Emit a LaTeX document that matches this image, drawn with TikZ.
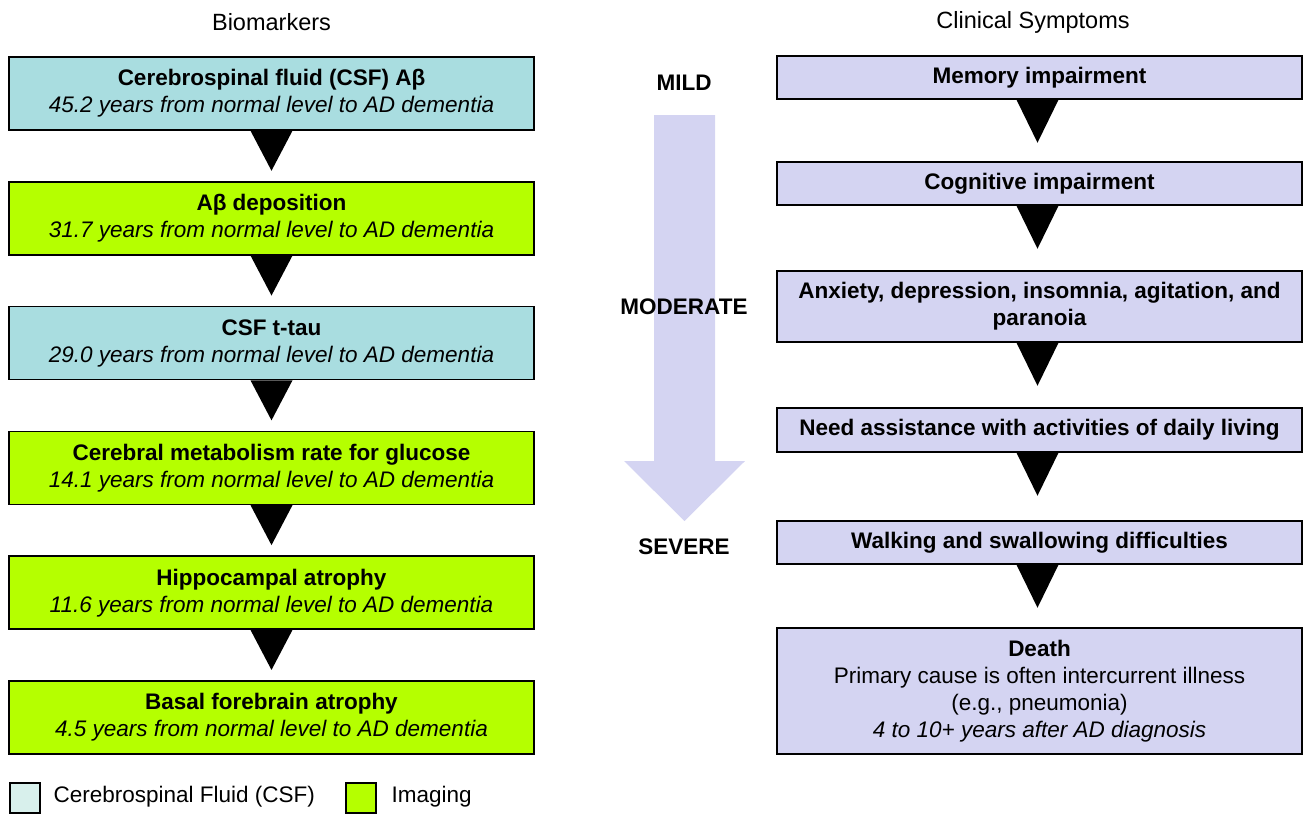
\documentclass[tikz,border=0pt]{standalone}
\usepackage{fontspec}
\setmainfont{Liberation Sans}
\definecolor{csfblue}{HTML}{A9DDE0}
\definecolor{imglime}{HTML}{B5FF00}
\definecolor{symlav}{HTML}{D4D4F2}
\definecolor{csflight}{HTML}{D8F0EC}
\tikzset{
    txt/.style={font=\fontsize{22.5}{27}\selectfont},
    markerbox/.style={txt, draw, line width=1.5pt, minimum width=525pt, minimum height=73pt, align=center, inner sep=0pt},
    symbox/.style={txt, draw, fill=symlav, line width=1.5pt, minimum width=525pt, align=center, inner sep=0pt},
    keybox/.style={draw, line width=1.2pt, minimum size=30pt, inner sep=0pt},
}
\begin{document}
\begin{tikzpicture}[x=1pt, y=-1pt]
    \useasboundingbox (0,0) rectangle (1304,814);
    % headers
    \node[txt, font=\fontsize{23.5}{27}\selectfont] (hbio) at (271.5,22) {Biomarkers};
    \node[txt, font=\fontsize{23.5}{27}\selectfont] (hclin) at (1033,22) {Clinical Symptoms};
    % biomarker chain
    \foreach \i/\col/\name/\yrs in {1/csfblue/{Cerebrospinal fluid (CSF) Aβ}/45.2,
                                    2/imglime/{Aβ deposition}/31.7,
                                    3/csfblue/{CSF t-tau}/29.0,
                                    4/imglime/{Cerebral metabolism rate for glucose}/14.1,
                                    5/imglime/{Hippocampal atrophy}/11.6,
                                    6/imglime/{Basal forebrain atrophy}/4.5} {
        \node[markerbox, fill=\col] (bm\i) at (271.5,{124.8*\i-31.3})
            {\textbf{\name}\\\textit{\yrs\ years from normal level to AD dementia}};
    }
    \foreach \i in {1,...,5} {
        \fill ([xshift=-21pt]bm\i.south) -- ([xshift=21pt]bm\i.south) -- ([yshift=-40pt]bm\i.south) -- cycle;
    }
    % severity
    \fill[symlav] (654,115) -- (715,115) -- (715,461) -- (745,461) -- (684.5,521)
        -- (624,461) -- (654,461) -- cycle;
    \node[txt, font=\fontsize{22.5}{27}\bfseries] (mild) at (684,83) {MILD};
    \node[txt, font=\fontsize{22.5}{27}\bfseries] (moderate) at (684,307) {MODERATE};
    \node[txt, font=\fontsize{22.5}{27}\bfseries] (severe) at (684,547) {SEVERE};
    % symptom chain
    \node[symbox, minimum height=43pt] (sym1) at (1039.5,77.5) {\textbf{Memory impairment}};
    \node[symbox, minimum height=43pt] (sym2) at (1039.5,183.5) {\textbf{Cognitive impairment}};
    \node[symbox, minimum height=71pt] (sym3) at (1039.5,306.5)
        {\textbf{Anxiety, depression, insomnia, agitation, and}\\\textbf{paranoia}};
    \node[symbox, minimum height=44pt] (sym4) at (1039.5,430) {\textbf{Need assistance with activities of daily living}};
    \node[symbox, minimum height=43pt] (sym5) at (1039.5,542.5) {\textbf{Walking and swallowing difficulties}};
    \node[symbox, minimum height=126pt] (sym6) at (1039.5,691)
        {\textbf{Death}\\Primary cause is often intercurrent illness\\(e.g., pneumonia)\\\textit{4 to 10+ years after AD diagnosis}};
    \foreach \i in {1,...,5} {
        \fill ([xshift=-23pt]sym\i.south) -- ([xshift=19pt]sym\i.south) -- ([shift={(-2pt,-43pt)}]sym\i.south) -- cycle;
    }
    % legend
    \node[keybox, fill=csflight] (kcsf) at (25,798) {};
    \node[txt, anchor=west] (lcsf) at (50,797) {Cerebrospinal Fluid (CSF)};
    \node[keybox, fill=imglime] (kimg) at (361,798) {};
    \node[txt, anchor=west] (limg) at (388,797) {Imaging};
\end{tikzpicture}
\end{document}
